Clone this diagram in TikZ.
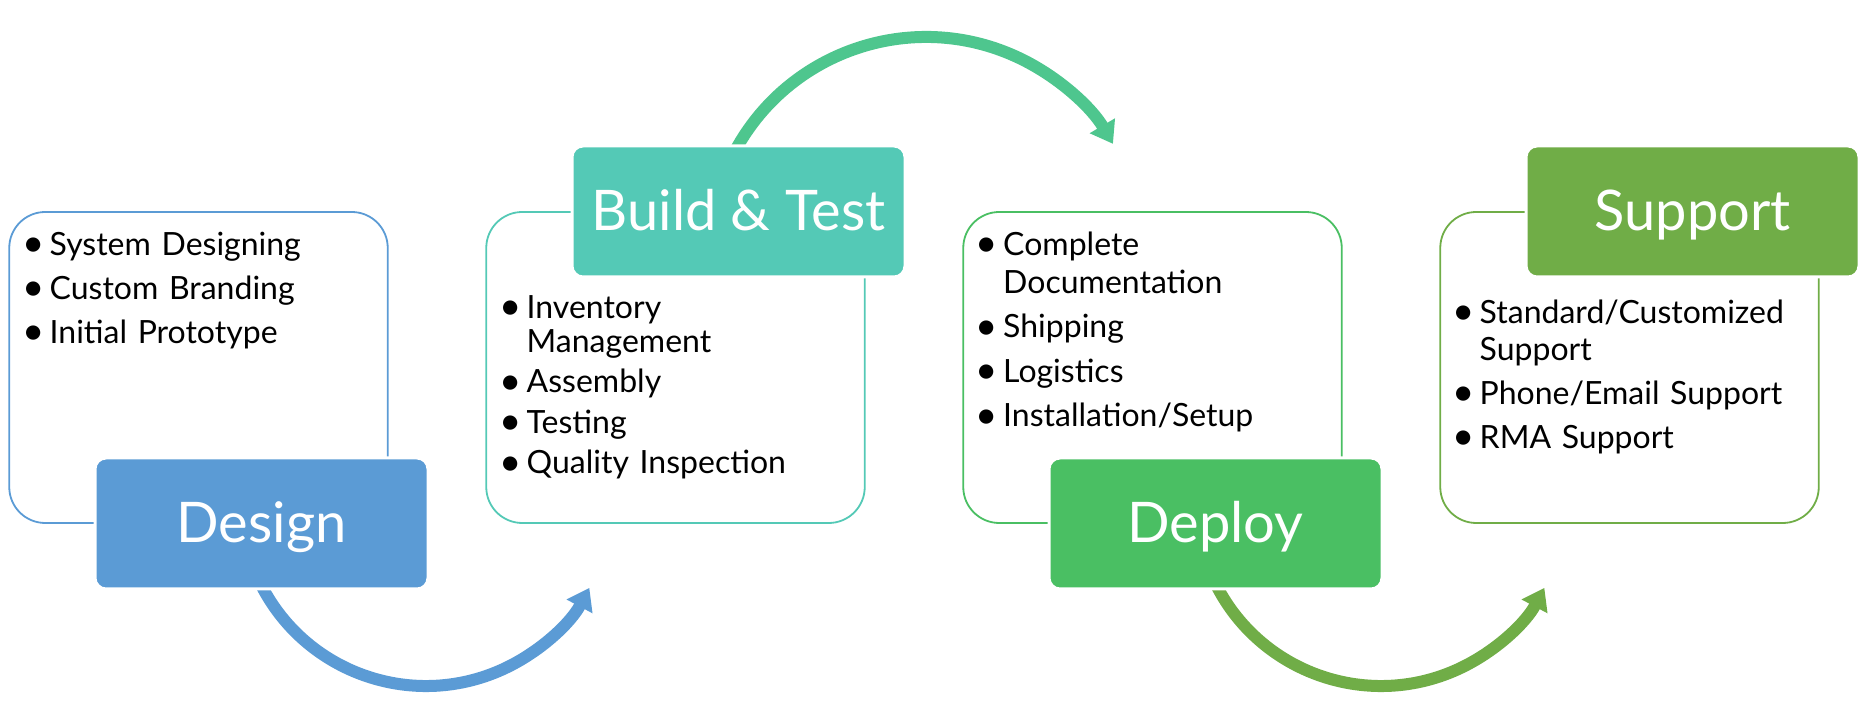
\documentclass[tikz,border=0pt]{standalone}
\usepackage{fontspec}
\setmainfont{Lato}
\usetikzlibrary{arrows.meta}
\definecolor{cblue}{RGB}{91,155,213}
\definecolor{cteal}{RGB}{84,201,182}
\definecolor{carrowg}{RGB}{78,198,142}
\definecolor{cgreen}{RGB}{74,191,99}
\definecolor{colive}{RGB}{112,173,71}
\newcommand\mybul{\hspace*{-3pt}\raisebox{-1.6pt}{\scalebox{1.2}{\textbullet}}}
\newcommand\bitem[1]{\hangindent=24.5pt\hangafter=1\noindent\makebox[24.5pt][l]{\mybul}#1\par}
\newcommand\topstrut{\rule{0pt}{26pt}}
\begin{document}
\begin{tikzpicture}[x=1pt,y=1pt,
  outl/.style={draw, line width=1.8pt, rounded corners=36pt, minimum width=378.5pt, minimum height=311pt, inner sep=0pt},
  lbl/.style={draw=white, line width=3pt, rounded corners=11pt, minimum width=333pt, minimum height=131pt, text=white, font=\fontsize{56}{62}\selectfont, text height=38pt, text depth=0pt, inner sep=0pt},
  items/.style={anchor=north west, inner sep=0pt, text width=360pt, align=left, font=\fontsize{32}{37}\selectfont},
  flow/.style={line width=12pt, -{Triangle[width=28pt,length=21pt]}}
]
\useasboundingbox (0,0) rectangle (1866,727);
% outline boxes
\node[outl, draw=cblue]  (designbox)  at (198.5,359.5) {};
\node[outl, draw=cteal]  (buildbox)   at (675.5,359.5) {};
\node[outl, draw=cgreen] (deploybox)  at (1152.5,359.5) {};
\node[outl, draw=colive] (supportbox) at (1629.5,359.5) {};
% arc centres
\coordinate (c1) at (426,226);
\coordinate (c2) at (926,473);
\coordinate (c3) at (1381,226);
% arrows
\draw[flow, cblue]   ([shift={(206:185)}]c1) arc[start angle=206, end angle=332, radius=185];
\draw[flow, carrowg] ([shift={(153:217)}]c2) arc[start angle=153, end angle=30.5, radius=217];
\draw[flow, colive]  ([shift={(206:185)}]c3) arc[start angle=206, end angle=332, radius=185];
% labels
\node[lbl, fill=cblue]  (design)  at (261.5,203.5) {Design};
\node[lbl, fill=cteal]  (build)   at (738.5,515.5) {Build \& Test};
\node[lbl, fill=cgreen] (deploy)  at (1215.5,203.5) {Deploy};
\node[lbl, fill=colive] (support) at (1692.5,515.5) {Support};
% lists
\node[items] (designlist) at (25,498) {\parskip=7pt
  \bitem{\topstrut System Designing}
  \bitem{Custom Branding}
  \bitem{Initial Prototype}};
\node[items] (buildlist) at (502,435) {\fontsize{32}{34}\selectfont\parskip=6.5pt
  \bitem{\topstrut Inventory\newline Management}
  \bitem{Assembly}
  \bitem{Testing}
  \bitem{Quality Inspection}};
\node[items] (deploylist) at (978.5,498) {\fontsize{32}{38}\selectfont\parskip=6.5pt
  \bitem{\topstrut Complete\newline Documentation}
  \bitem{Shipping}
  \bitem{Logistics}
  \bitem{Installation/Setup}};
\node[items] (supportlist) at (1455,430) {\parskip=7pt
  \bitem{\topstrut Standard/Customized\newline Support}
  \bitem{Phone/Email Support}
  \bitem{RMA Support}};
\end{tikzpicture}
\end{document}
